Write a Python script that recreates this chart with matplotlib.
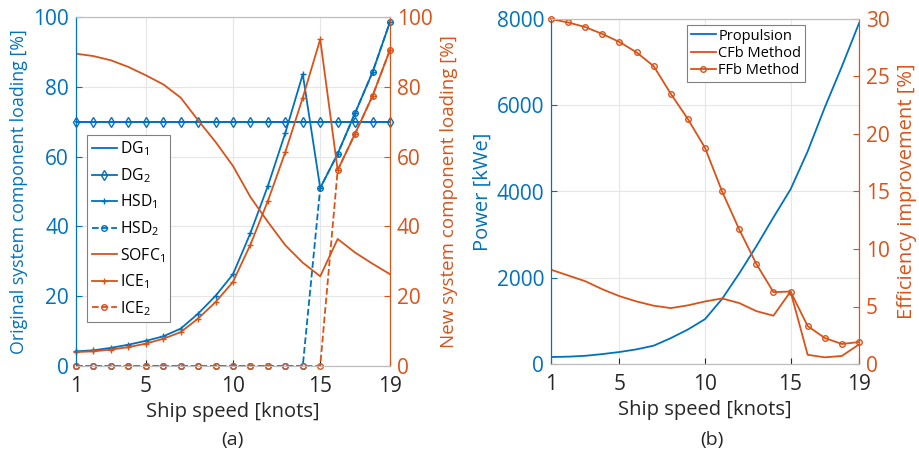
import matplotlib.pyplot as plt

plt.rcParams['font.family'] = ['Open Sans', 'DejaVu Sans']
plt.rcParams['mathtext.fontset'] = 'custom'
plt.rcParams['mathtext.rm'] = 'Open Sans'
plt.rcParams['mathtext.it'] = 'Open Sans'

BLUE = '#0072BD'
ORANGE = '#D95319'
GRAY = '#262626'

speed = list(range(1, 20))

# (a) original system (left axis) and new system (right axis) loading [%]
dg1 = [70] * 19
dg2 = [70] * 19
hsd1 = [4.2, 4.5, 5.2, 6.1, 7.2, 8.5, 10.7, 15.0, 20.1, 26.3, 38.1, 51.6, 66.8, 83.6,
        51.0, 60.8, 72.5, 84.2, 98.6]
hsd2 = [0] * 14 + [51.0, 60.8, 72.5, 84.2, 98.6]
sofc1 = [89.5, 88.8, 87.6, 85.7, 83.3, 80.7, 76.9, 70.4, 64.2, 57.3, 48.4, 41.3, 34.6, 29.6,
         25.7, 36.4, 32.5, 29.3, 26.3]
ice1 = [4.0, 4.2, 4.7, 5.4, 6.4, 7.8, 9.7, 13.6, 18.3, 24.1, 34.8, 47.3, 61.3, 76.9,
        93.6, 56.1, 66.6, 77.4, 90.6]
ice2 = [0] * 15 + [56.1, 66.6, 77.4, 90.6]

# (b) propulsion power [kWe] and efficiency improvement [%]
propulsion = [162, 170, 190, 230, 278, 340, 425, 600, 800, 1040, 1510, 2100, 2730, 3400,
              4050, 4930, 5950, 6900, 7900]
cfb = [8.2, 7.7, 7.2, 6.5, 5.9, 5.44, 5.07, 4.86, 5.1, 5.44, 5.7, 5.3, 4.6, 4.2,
       6.3, 0.8, 0.58, 0.7, 1.7]
ffb = [30.0, 29.7, 29.3, 28.7, 28.0, 27.1, 25.9, 23.5, 21.3, 18.8, 15.0, 11.7, 8.7, 6.25,
       6.3, 3.3, 2.26, 1.74, 1.91]

xticks = [1, 5, 10, 15, 19]
FS = 15
lw = 1.3
ms = 4

fig = plt.figure(figsize=(9.2, 4.59), dpi=100)
W, H = 920, 459
ax1 = fig.add_axes([76 / W, 1 - 366 / H, (390 - 76) / W, (366 - 17) / H])
ax2 = fig.add_axes([551 / W, 1 - 364 / H, (859 - 551) / W, (364 - 19) / H])


def style(ax, twin, lcol, rcol):
    ax.set_xlim(1, 19)
    ax.set_xticks(xticks)
    ax.grid(True, color='#e6e6e6', lw=0.8)
    ax.set_axisbelow(True)
    ax.tick_params(axis='x', colors=GRAY, labelsize=FS, direction='in', length=4, pad=7)
    ax.tick_params(axis='y', colors=lcol, labelsize=FS, direction='in', length=4, pad=5)
    twin.tick_params(axis='y', colors=rcol, labelsize=FS, direction='in', length=4, pad=5)
    for a in (ax, twin):
        a.spines['top'].set_color('#bdbdbd')
        a.spines['bottom'].set_color('#bdbdbd')
        a.spines['left'].set_color(lcol)
        a.spines['right'].set_color(rcol)
    ax.set_xlabel('Ship speed [knots]', fontsize=14.5, color=GRAY, labelpad=4)


# ---- (a)
tw1 = ax1.twinx()
l1, = ax1.plot(speed, dg1, color=BLUE, lw=lw, label='DG$_1$')
l2, = ax1.plot(speed, dg2, color=BLUE, lw=lw, marker='d', ms=ms + 1, mfc='none', label='DG$_2$')
l3, = ax1.plot(speed, hsd1, color=BLUE, lw=lw, marker='+', ms=ms + 1, label='HSD$_1$')
l4, = ax1.plot(speed, hsd2, color=BLUE, lw=lw, ls='--', marker='o', ms=ms, mfc='none',
               label='HSD$_2$')
l5, = tw1.plot(speed, sofc1, color=ORANGE, lw=lw, label='SOFC$_1$')
l6, = tw1.plot(speed, ice1, color=ORANGE, lw=lw, marker='+', ms=ms + 1, label='ICE$_1$')
l7, = tw1.plot(speed, ice2, color=ORANGE, lw=lw, ls='--', marker='o', ms=ms, mfc='none',
               label='ICE$_2$')
for l in (l2, l3, l4, l6, l7):
    l.set_clip_on(False)
ax1.set_ylim(0, 100)
tw1.set_ylim(0, 100)
ax1.set_yticks(range(0, 101, 20))
tw1.set_yticks(range(0, 101, 20))
style(ax1, tw1, BLUE, ORANGE)
ax1.set_ylabel('Original system component loading [%]', fontsize=12.8, color=BLUE, labelpad=4)
tw1.set_ylabel('New system component loading [%]', fontsize=13.5, color=ORANGE, labelpad=5)
leg = tw1.legend(handles=[l1, l2, l3, l4, l5, l6, l7],
                 loc='upper left', bbox_to_anchor=(0.035, 0.662), borderaxespad=0,
                 fontsize=11.3, fancybox=False, edgecolor='#808080', framealpha=1,
                 handlelength=1.6, handletextpad=0.2, labelspacing=0.5, borderpad=0.3)
leg.get_frame().set_linewidth(0.8)

# ---- (b)
tw2 = ax2.twinx()
p1, = ax2.plot(speed, propulsion, color=BLUE, lw=lw, label='Propulsion')
p2, = tw2.plot(speed, cfb, color=ORANGE, lw=lw, label='CFb Method')
p3, = tw2.plot(speed, ffb, color=ORANGE, lw=lw, marker='o', ms=ms, mfc='none',
               label='FFb Method')
p3.set_clip_on(False)
ax2.set_ylim(0, 8000)
ax2.set_yticks(range(0, 8001, 2000))
tw2.set_ylim(0, 30)
tw2.set_yticks(range(0, 31, 5))
style(ax2, tw2, BLUE, ORANGE)
ax2.set_ylabel('Power [kWe]', fontsize=14.5, color=BLUE, labelpad=3)
tw2.set_ylabel('Efficiency improvement [%]', fontsize=14.5, color=ORANGE, labelpad=5)
leg2 = tw2.legend(handles=[p1, p2, p3], loc='upper right', bbox_to_anchor=(0.825, 0.983),
                  borderaxespad=0, fontsize=10.5, fancybox=False, edgecolor='#808080',
                  framealpha=1, handlelength=1.7, handletextpad=0.2, labelspacing=0.15,
                  borderpad=0.25)
leg2.get_frame().set_linewidth(0.8)

fig.text(232 / W, 1 - 440 / H, '(a)', fontsize=14, color=GRAY, ha='center', va='center')
fig.text(712 / W, 1 - 440 / H, '(b)', fontsize=14, color=GRAY, ha='center', va='center')

fig.savefig('out.png', dpi=100)
